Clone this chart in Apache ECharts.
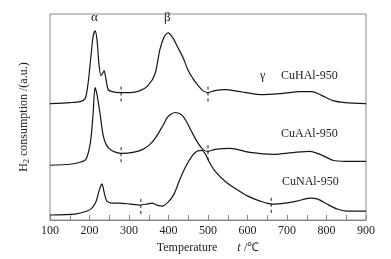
<!DOCTYPE html>
<html>
<head>
<meta charset="utf-8">
<script src="https://cdn.jsdelivr.net/npm/echarts@6/dist/echarts.min.js"></script>
<style>
html,body{margin:0;padding:0;background:#fff;}
#chart{width:391px;height:259px;}
</style>
</head>
<body>
<div id="chart"></div>
<script>
// temperature (℃) / signal (a.u.)
var hT = [100,151,176,189,196,204,209,214,219,224,229,234,237,242,247,257,277,303,328,348,366,378,389,399,411,424,437,449,462,475,487,500,517,543,581,632,682,733,763,789,816,847,900];
var hV = [117,118,119,122,136,166,184,190,181,156,145,148,150,141,131,129,128,128,130,135,147,171,184,188,183,173,163,151,142,135,130,128,130,131,129,126,127,129,129,125,120,118,117];

var aT = [100,151,176,191,199,204,209,214,219,227,234,242,252,267,282,310,335,353,368,386,399,416,432,444,457,472,487,500,518,556,606,665,720,758,784,816,847,900];
var aV = [55,56,58,61,71,83,106,133,126,106,86,76,71,68,67,68,71,76,83,95,104,108,106,100,90,79,71,69,71,72,68,66,68,69,66,60,59,59];

var nT = [100,163,194,206,216,224,229,232,237,244,257,277,303,328,346,358,371,384,399,414,429,444,459,472,485,495,505,520,543,568,601,632,662,695,725,758,778,801,827,852,900];
var nV = [5,6,9,12,18,29,35,36,28,19,17,17,16,15,16,17,15,14,18,26,41,54,64,69,70,65,57,48,39,32,24,19,16,17,19,22,21,16,11,9,9];

var names = ['CuHAl-950','CuAAl-950','CuNAl-950'];
var marks = [[280,500],[280,500],[330,660]];

var font = 'Liberation Serif';
var lineColor = '#151515';

function pairs(t, v) {
    return t.map(function (x, i) { return [x, v[i]]; });
}
function valueAt(t, v, x) {
    for (var i = 1; i < t.length; i++) {
        if (x <= t[i]) {
            var f = (x - t[i-1]) / (t[i] - t[i-1]);
            return v[i-1] + f * (v[i] - v[i-1]);
        }
    }
    return v[v.length-1];
}

var curves = [[hT,hV],[aT,aV],[nT,nV]];
var series = [];
curves.forEach(function (c, k) {
    series.push({
        name: names[k],
        type: 'line',
        data: pairs(c[0], c[1]),
        smooth: 0.25,
        showSymbol: false,
        lineStyle: {color: lineColor, width: 1.2},
        silent: true
    });
    marks[k].forEach(function (m) {
        var y = valueAt(c[0], c[1], m);
        series.push({
            type: 'line',
            data: [[m, y - 9], [m, y + 9]],
            showSymbol: false,
            lineStyle: {color: lineColor, width: 1, type: [3, 3]},
            silent: true
        });
    });
});

var option = {
    animation: false,
    grid: {left: 50, right: 25, top: 14, bottom: 38, show: true, borderColor: '#888', borderWidth: 1},
    xAxis: {
        type: 'value', min: 100, max: 900, interval: 100,
        axisLine: {lineStyle: {color: '#888'}},
        axisTick: {inside: true, length: 5, lineStyle: {color: '#888'}},
        minorTick: {show: true, splitNumber: 2, length: 5, lineStyle: {color: '#888'}},
        splitLine: {show: false},
        axisLabel: {color: '#222', fontFamily: font, fontSize: 12, margin: 5},
        name: '{n|Temperature}      {i|t} {n|/℃}',
        nameLocation: 'middle',
        nameGap: 22,
        nameTextStyle: {
            rich: {
                n: {fontFamily: font, fontSize: 12, color: '#222'},
                i: {fontFamily: font, fontSize: 12, fontStyle: 'italic', color: '#222'}
            }
        }
    },
    yAxis: {
        type: 'value', min: 0, max: 207,
        axisLine: {show: false}, axisTick: {show: false}, axisLabel: {show: false}, splitLine: {show: false},
        name: '{n|H}{s|2}{n| consumption /(a.u.)}',
        nameLocation: 'middle',
        nameGap: 19,
        nameTextStyle: {
            rich: {
                n: {fontFamily: font, fontSize: 12, color: '#222', lineHeight: 14},
                s: {fontFamily: font, fontSize: 8, color: '#222', verticalAlign: 'bottom', lineHeight: 8}
            }
        }
    },
    graphic: [
        {type: 'text', left: 91, top: 11, style: {text: 'α', font: '13px ' + font, fill: '#222'}},
        {type: 'text', left: 164, top: 11, style: {text: 'β', font: '13px ' + font, fill: '#222'}},
        {type: 'text', left: 260, top: 70, style: {text: 'γ', font: '12px ' + font, fill: '#222'}},
        {type: 'text', left: 281, top: 70, style: {text: names[0], font: '12px ' + font, fill: '#222'}},
        {type: 'text', left: 281, top: 128, style: {text: names[1], font: '12px ' + font, fill: '#222'}},
        {type: 'text', left: 282, top: 176, style: {text: names[2], font: '12px ' + font, fill: '#222'}}
    ],
    series: series
};

var myChart = echarts.init(document.getElementById('chart'));
myChart.setOption(option);
</script>
</body>
</html>
